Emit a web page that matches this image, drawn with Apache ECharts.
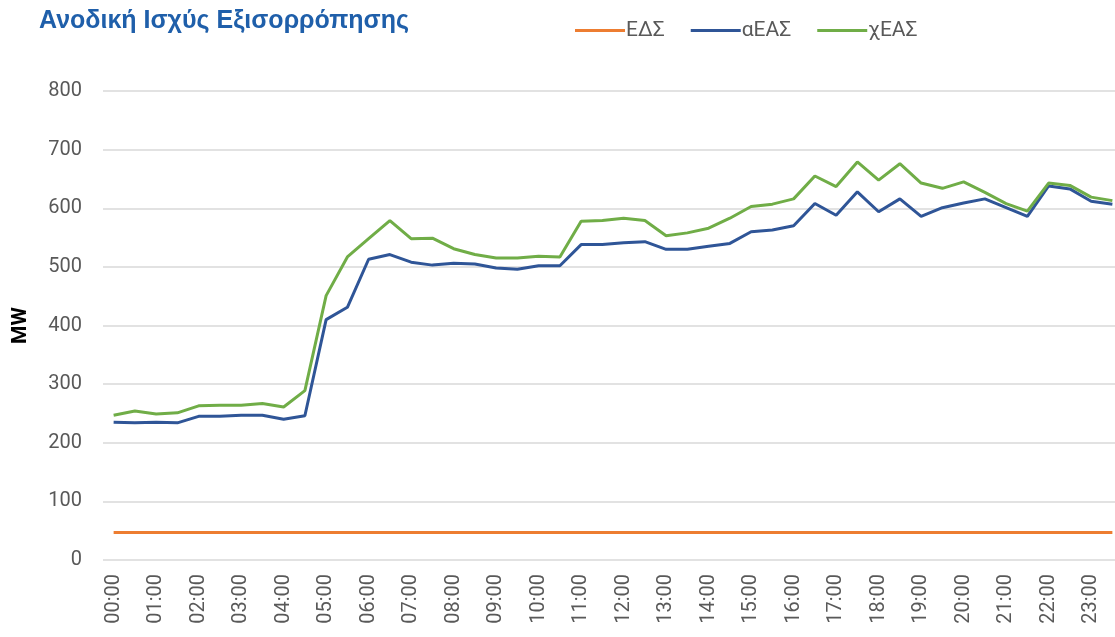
<!DOCTYPE html>
<html><head><meta charset="utf-8">
<script src="https://cdn.jsdelivr.net/npm/echarts@6/dist/echarts.min.js"></script>
<style>html,body{margin:0;padding:0;background:#fff}#c{width:1115px;height:637px}</style>
</head><body><div id="c"></div>
<script>
const times = ["00:00","00:30","01:00","01:30","02:00","02:30","03:00","03:30","04:00","04:30","05:00","05:30",
"06:00","06:30","07:00","07:30","08:00","08:30","09:00","09:30","10:00","10:30","11:00","11:30",
"12:00","12:30","13:00","13:30","14:00","14:30","15:00","15:30","16:00","16:30","17:00","17:30",
"18:00","18:30","19:00","19:30","20:00","20:30","21:00","21:30","22:00","22:30","23:00","23:30"];
const eds = [47,47,47,47,47,47,47,47,47,47,47,47,47,47,47,47,47,47,47,47,47,47,47,47,
47,47,47,47,47,47,47,47,47,47,47,47,47,47,47,47,47,47,47,47,47,47,47,47];
const aeas = [235,234,235,234,245,245,247,247,240,246,410,431,513,521,508,503,506,505,498,496,502,502,538,538,
541,543,530,530,535,540,560,563,570,608,588,628,594,616,586,601,609,616,601,586,638,633,612,607];
const xeas = [247,254,249,251,263,264,264,267,261,289,451,517,548,579,548,549,531,521,515,515,518,517,578,579,
583,579,553,558,566,583,603,607,616,655,637,679,648,676,643,634,645,627,608,595,643,639,619,613];
const yTicks = {min:0, max:800, interval:100};

const chart = echarts.init(document.getElementById('c'), null, {renderer:'canvas'});
const lineStyle = (c)=>({width:3, color:c});
chart.setOption({
  animation:false,
  backgroundColor:'#fff',
  title:{text:'Ανοδική Ισχύς Εξισορρόπησης', left:34, top:4,
    textStyle:{fontFamily:'Liberation Sans, Arial', fontWeight:'bold', fontSize:25, color:'#1F5FAA'}},
  legend:{top:15, left:570, itemWidth:50, itemHeight:3, itemGap:26,
    icon:'rect',
    textStyle:{fontFamily:'Roboto', fontSize:21, color:'#595959', padding:[0,0,0,-4]},
    data:['ΕΔΣ','αΕΑΣ','χΕΑΣ']},
  grid:{left:103, width:1020, top:91, height:469, containLabel:false, outerBoundsMode:'none'},
  xAxis:{type:'category', data:times, boundaryGap:true,
    axisLine:{show:false}, axisTick:{show:false},
    axisLabel:{interval:1, rotate:90, margin:14, fontFamily:'Roboto', fontSize:20, color:'#595959'}},
  yAxis:{type:'value', min:yTicks.min, max:yTicks.max, interval:yTicks.interval,
    name:'MW', nameLocation:'middle', nameRotate:90, nameGap:72,
    nameTextStyle:{fontFamily:'Roboto', fontWeight:'bold', fontSize:21, color:'#000'},
    axisLine:{show:false}, axisTick:{show:false},
    axisLabel:{margin:21, fontFamily:'Roboto', fontSize:20, color:'#595959'},
    splitLine:{lineStyle:{color:'#d9d9d9', width:1.5}}},
  series:[
    {name:'ΕΔΣ', type:'line', data:eds, symbol:'none', color:'#ED7D31', lineStyle:lineStyle('#ED7D31')},
    {name:'αΕΑΣ', type:'line', data:aeas, symbol:'none', color:'#2F5597', lineStyle:lineStyle('#2F5597')},
    {name:'χΕΑΣ', type:'line', data:xeas, symbol:'none', color:'#70AD47', lineStyle:lineStyle('#70AD47')}
  ]
});
</script></body></html>
